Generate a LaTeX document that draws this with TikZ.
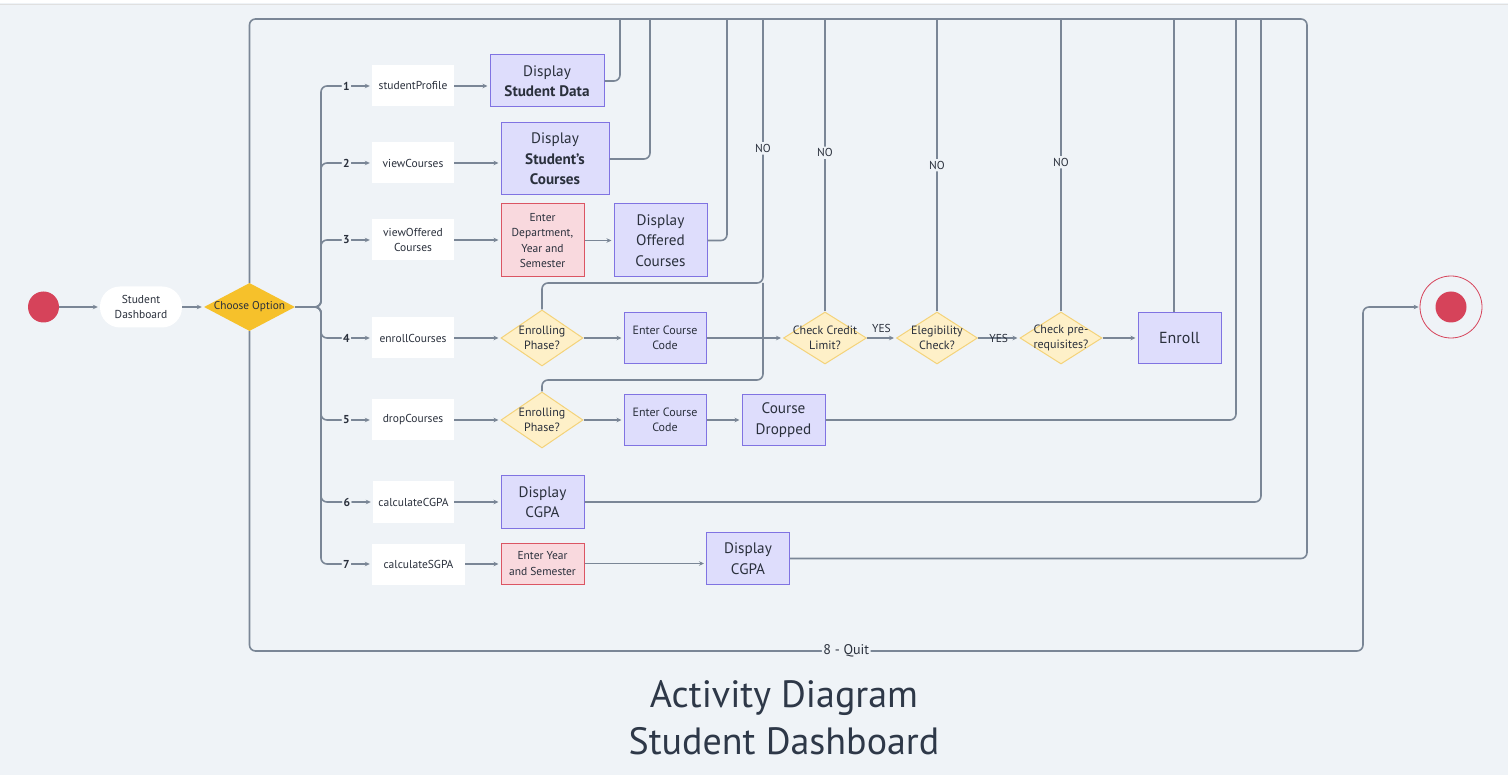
\documentclass[tikz,border=0pt]{standalone}
\usepackage{fontspec}
\setmainfont{PT Sans}
\newfontfamily\titlefont{PT Sans}
\usetikzlibrary{shapes.geometric,arrows.meta}
\definecolor{bg}{HTML}{EFF3F7}
\definecolor{lc}{HTML}{7A8696}
\definecolor{txt}{HTML}{2A303C}
\definecolor{pfill}{HTML}{DEDDFC}
\definecolor{pdraw}{HTML}{8073E2}
\definecolor{rfill}{HTML}{F9D9DE}
\definecolor{rdraw}{HTML}{DB5563}
\definecolor{yfill}{HTML}{FEF0C8}
\definecolor{ydraw}{HTML}{F4D37A}
\definecolor{gold}{HTML}{F6C12B}
\definecolor{startc}{HTML}{D6435A}
\definecolor{titlec}{HTML}{2E3848}
\tikzset{
  base/.style={inner sep=2pt, align=center, text=txt},
  wbox/.style={base, fill=white, minimum width=82pt, minimum height=41pt, font=\fontsize{11.5}{15.5}\selectfont},
  pbox/.style={base, fill=pfill, draw=pdraw, line width=1pt, font=\fontsize{15.2}{20.5}\selectfont},
  pboxs/.style={pbox, font=\fontsize{12}{15.5}\selectfont},
  rbox/.style={base, fill=rfill, draw=rdraw, line width=1pt, font=\fontsize{11.5}{15.5}\selectfont},
  dia/.style={diamond, fill=yfill, draw=ydraw, line width=1pt, inner sep=0pt, minimum width=82pt, minimum height=56pt},
  dtext/.style={align=center, text=txt, font=\fontsize{12}{15.5}\selectfont, inner sep=0pt},
  flow/.style={draw=lc, line width=1.6pt, -{Stealth[length=5pt,width=4.5pt]}, shorten >=2pt},
  ret/.style={draw=lc, line width=1.6pt, rounded corners=6pt},
  num/.style={fill=bg, inner sep=1.5pt, font=\bfseries\fontsize{11.5}{11.5}\selectfont, text=txt},
  nolbl/.style={fill=bg, inner sep=2pt, font=\fontsize{11.5}{11.5}\selectfont, text=txt},
  yeslbl/.style={inner sep=2pt, font=\fontsize{11.5}{11.5}\selectfont, text=txt},
}
\begin{document}
\begin{tikzpicture}[x=1pt,y=-1pt]
\useasboundingbox (0,0) rectangle (1508,775);
\fill[bg] (0,0) rectangle (1508,775);
\fill[white] (0,0) rectangle (1508,3.5);
\draw[black!12, line width=0.8pt] (0,4) -- (1508,4);

% start / dashboard / choice
\node[circle, fill=startc, minimum size=31pt, inner sep=0pt] (st) at (43.5,307) {};
\node[base, fill=white, rounded corners=20pt, minimum width=82pt, minimum height=41pt, font=\fontsize{11.5}{15.5}\selectfont] (sd) at (141,307) {Student\\Dashboard};
\node[diamond, fill=gold, inner sep=0pt, minimum width=91pt, minimum height=48pt,
      label={[dtext, font=\fontsize{11.3}{14}\selectfont]center:Choose Option}] (co) at (249.5,307) {};

% option boxes
\node[wbox] (sp)  at (413,86)  {studentProfile};
\node[wbox] (vc)  at (413,163) {viewCourses};
\node[wbox] (voc) at (413,240) {viewOffered\\Courses};
\node[wbox] (ecr) at (413,338) {enrollCourses};
\node[wbox] (dcr) at (413,420) {dropCourses};
\node[wbox, minimum width=81pt] (ccg) at (413.5,502) {calculateCGPA};
\node[wbox, minimum width=93pt] (csg) at (418.5,564) {calculateSGPA};

% row 1-3
\node[pbox, minimum width=114pt, minimum height=52pt] (dsd) at (547,81) {Display\\\textbf{Student Data}};
\node[pbox, minimum width=108pt, minimum height=72pt] (dsc) at (555,159) {Display\\\textbf{Student’s}\\\textbf{Courses}};
\node[rbox, minimum width=83pt, minimum height=73pt] (edys) at (542.5,240.5) {Enter\\Department,\\Year and\\Semester};
\node[pbox, minimum width=93pt, minimum height=73pt] (doc) at (660.5,240.5) {Display\\Offered\\Courses};

% row 4
\node[dia, label={[dtext]center:{Enrolling\\Phase?}}] (ep1) at (542,338) {};
\node[pboxs, minimum width=82pt, minimum height=51pt] (ecc1) at (665,338) {Enter Course\\Code};
\node[dia, minimum width=83pt, minimum height=52pt, label={[dtext]center:{Check Credit\\Limit?}}] (ccl) at (825,338) {};
\node[dia, minimum width=81pt, minimum height=52pt, label={[dtext]center:{Elegibility\\Check?}}] (elg) at (937,338) {};
\node[dia, minimum width=82pt, minimum height=52pt, label={[dtext]center:{Check pre-\\requisites?}}] (cpr) at (1061,338) {};
\node[pbox, minimum width=83pt, minimum height=51pt, font=\fontsize{16}{20}\selectfont] (enr) at (1179.5,338) {Enroll};

% row 5
\node[dia, label={[dtext]center:{Enrolling\\Phase?}}] (ep2) at (542,420) {};
\node[pboxs, minimum width=82pt, minimum height=51pt] (ecc2) at (665,420) {Enter Course\\Code};
\node[pbox, minimum width=83pt, minimum height=51pt] (cd) at (783.5,420) {Course\\Dropped};

% row 6-7
\node[pbox, minimum width=83pt, minimum height=52pt] (dcg) at (542.5,502) {Display\\CGPA};
\node[rbox, minimum width=83pt, minimum height=41pt] (eys) at (542.5,563.5) {Enter Year\\and Semester};
\node[pbox, minimum width=83pt, minimum height=52pt] (dcg2) at (748,558.5) {Display\\CGPA};

% final
\node[circle, draw=startc, line width=0.8pt, fill=bg, minimum size=62pt, inner sep=0pt,
      path picture={\fill[startc] (path picture bounding box.center) circle (15.5pt);}] (fin) at (1451,307) {};

% start flows
\draw[flow] (st) -- (sd);
\draw[flow] (sd) -- (co);

% branches
\foreach \n/\t in {1/sp,2/vc,3/voc,4/ecr,5/dcr,6/ccg,7/csg}
  \draw[flow, rounded corners=6pt] (co.east) -- (321,307) |- node[num,pos=0.75]{\n} (\t.west);

% row flows
\draw[flow] (sp.east) -- (sp.east -| dsd.west);
\draw[flow] (vc.east) -- (vc.east -| dsc.west);
\draw[flow] (voc.east) -- (voc.east -| edys.west);
\draw[flow] (edys.east) -- (edys.east -| doc.west);
\draw[flow] (ecr) -- (ep1);
\draw[flow] (ep1) -- (ecc1);
\draw[flow] (ecc1) -- (ccl);
\draw[flow] (ccl) -- node[yeslbl, above=3pt]{YES} (elg);
\draw[flow] (elg) -- node[yeslbl]{YES} (cpr);
\draw[flow] (cpr) -- (enr);
\draw[flow] (dcr) -- (ep2);
\draw[flow] (ep2) -- (ecc2);
\draw[flow] (ecc2) -- (cd);
\draw[flow] (ccg.east) -- (ccg.east -| dcg.west);
\draw[flow] (csg.east) -- (csg.east -| eys.west);
\draw[flow] (eys.east) -- (eys.east -| dcg2.west);

% return lines
\draw[ret] (co.north) |- (1307,19) |- (dcg2.east);
\draw[ret] (dsd.east) -| (620,19);
\draw[ret] (dsc.east) -| (650,19);
\draw[ret] (doc.east) -| (727,19);
\draw[ret] (ep1.north) |- (763,283) -- node[nolbl,pos=0.51]{NO} (763,19);
\draw[ret] (ep2.north) |- (763,380) -- (763,283);
\draw[ret] (ccl.north) -- node[nolbl,pos=0.543]{NO} (825,19);
\draw[ret] (elg.north) -- node[nolbl,pos=0.50]{NO} (937,19);
\draw[ret] (cpr.north) -- node[nolbl,pos=0.51]{NO} (1061,19);
\draw[ret] (enr.north -| 1174,0) -- (1174,19);
\draw[ret] (cd.east) -| (1236,19);
\draw[ret] (dcg.east) -| (1261,19);

% quit
\draw[ret, -{Stealth[length=5pt,width=4.5pt]}, shorten >=1pt] (co.south) |- node[pos=0.768, fill=bg, inner sep=1.5pt, text=txt, font=\fontsize{14}{14}\selectfont]{8 - Quit} (1363,651) |- (fin.west);

% title
\node[align=center, text=titlec, font=\titlefont\fontsize{38}{47}\selectfont] (title) at (784,718) {Activity Diagram\\Student Dashboard};
\end{tikzpicture}
\end{document}
